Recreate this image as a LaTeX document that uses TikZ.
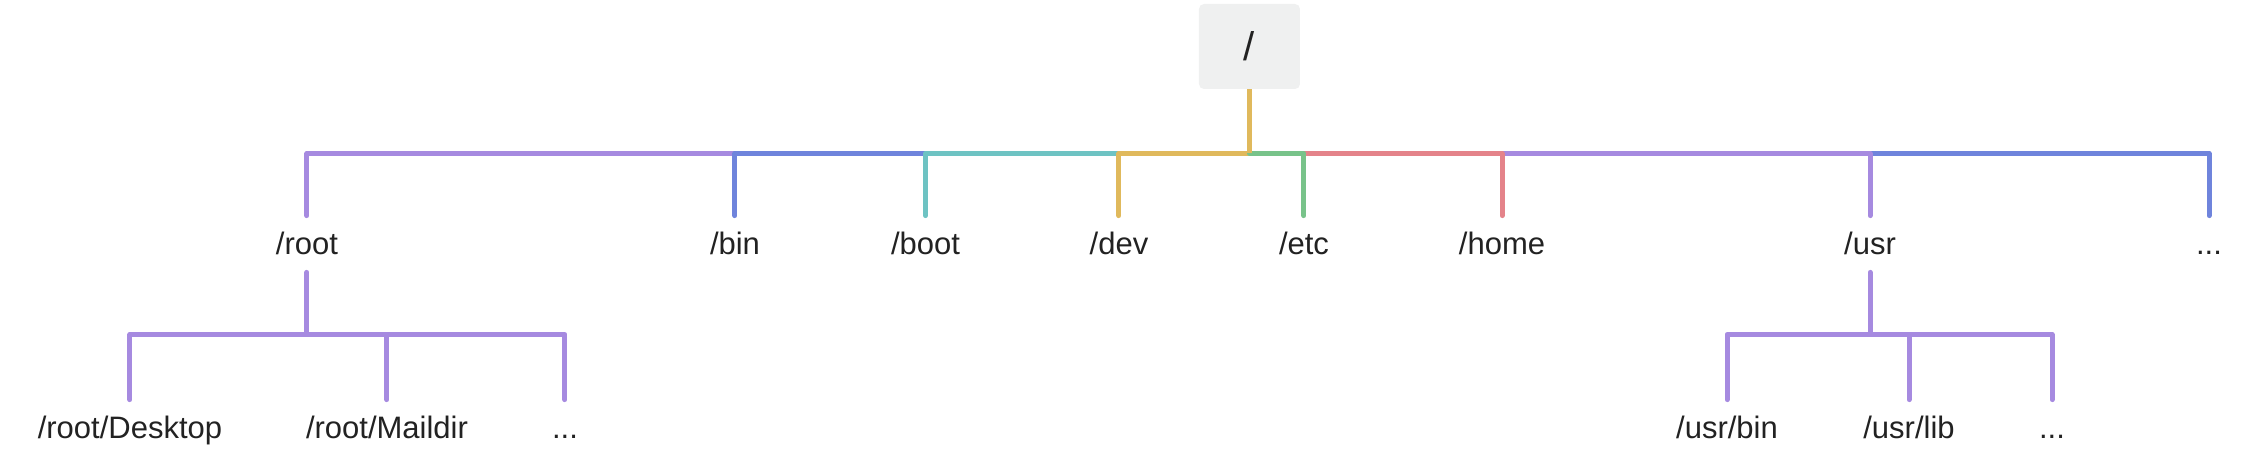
\documentclass[tikz,border=0pt]{standalone}
\usepackage{fontspec}
\setmainfont{Liberation Sans}
\usepackage{xcolor}
\usepackage{tikz}
\usetikzlibrary{positioning}
\definecolor{treepurple}{HTML}{A68AE0}
\definecolor{treeblue}{HTML}{6F84DC}
\definecolor{treeteal}{HTML}{6EC3C3}
\definecolor{treegold}{HTML}{E0B95C}
\definecolor{treegreen}{HTML}{78C38A}
\definecolor{treered}{HTML}{E4838A}
\definecolor{boxgray}{HTML}{EFF0F0}
\definecolor{textdark}{HTML}{222222}
\tikzstyle{rootbox} = [rectangle, rounded corners=2.5pt, minimum width=50.5pt, minimum height=42.5pt, fill=boxgray, text=textdark, font=\fontsize{20}{24}\selectfont]
\tikzstyle{dir} = [rectangle, inner sep=0pt, minimum height=28pt, text height=12.25pt, text depth=2.25pt, text centered, text=textdark, font=\fontsize{15.5}{18}\selectfont]
\tikzstyle{edge} = [line width=2.5pt, line cap=round, line join=round]

\begin{document}
\begin{tikzpicture}[node distance=92pt]
        \useasboundingbox (-624.75pt,23.25pt) rectangle (505.25pt,-206.75pt);
        % Root directory
        \node (slash) [rootbox] {/};
        \coordinate (trunk) at ([yshift=-32pt]slash.south);

        % First level
        \node (rootdir) [dir, below of=slash, xshift=-471.25pt, yshift=-6.75pt] {/root};
        \node (bin) [dir, below of=slash, xshift=-257.25pt, yshift=-6.75pt] {/bin};
        \node (boot) [dir, below of=slash, xshift=-162pt, yshift=-6.75pt] {/boot};
        \node (dev) [dir, below of=slash, xshift=-65.25pt, yshift=-6.75pt] {/dev};
        \node (etc) [dir, below of=slash, xshift=27.25pt, yshift=-6.75pt] {/etc};
        \node (home) [dir, below of=slash, xshift=126.25pt, yshift=-6.75pt] {/home};
        \node (usr) [dir, below of=slash, xshift=310.25pt, yshift=-6.75pt] {/usr};
        \node (more) [dir, below of=slash, xshift=479.75pt, yshift=-6.75pt] {...};

        % Under /root
        \coordinate (rootjoin) at ([yshift=-31pt]rootdir.south);
        \node (desktop) [dir, below of=rootdir, xshift=-88.5pt] {/root/Desktop};
        \node (maildir) [dir, below of=rootdir, xshift=40pt] {/root/Maildir};
        \node (rootmore) [dir, below of=rootdir, xshift=129pt] {...};

        % Under /usr
        \coordinate (usrjoin) at ([yshift=-31pt]usr.south);
        \node (usrbin) [dir, below of=usr, xshift=-71.5pt] {/usr/bin};
        \node (usrlib) [dir, below of=usr, xshift=19.5pt] {/usr/lib};
        \node (usrmore) [dir, below of=usr, xshift=91pt] {...};

        % Branches, farthest first
        \draw [edge, treeblue] (trunk) -| (more.north);
        \draw [edge, treepurple] (trunk) -| (rootdir.north);
        \draw [edge, treepurple] (trunk) -| (usr.north);
        \draw [edge, treeblue] (trunk) -| (bin.north);
        \draw [edge, treeteal] (trunk) -| (boot.north);
        \draw [edge, treered] (trunk) -| (home.north);
        \draw [edge, treegold] (trunk) -| (dev.north);
        \draw [edge, treegreen] (trunk) -| (etc.north);
        \draw [edge, treegold, line cap=butt] (slash.south) -- (trunk);

        \draw [edge, treepurple] (rootdir.south) -- (rootjoin);
        \draw [edge, treepurple] (rootjoin) -| (desktop.north);
        \draw [edge, treepurple] (rootjoin) -| (maildir.north);
        \draw [edge, treepurple] (rootjoin) -| (rootmore.north);

        \draw [edge, treepurple] (usr.south) -- (usrjoin);
        \draw [edge, treepurple] (usrjoin) -| (usrbin.north);
        \draw [edge, treepurple] (usrjoin) -| (usrlib.north);
        \draw [edge, treepurple] (usrjoin) -| (usrmore.north);
      \end{tikzpicture}
\end{document}
